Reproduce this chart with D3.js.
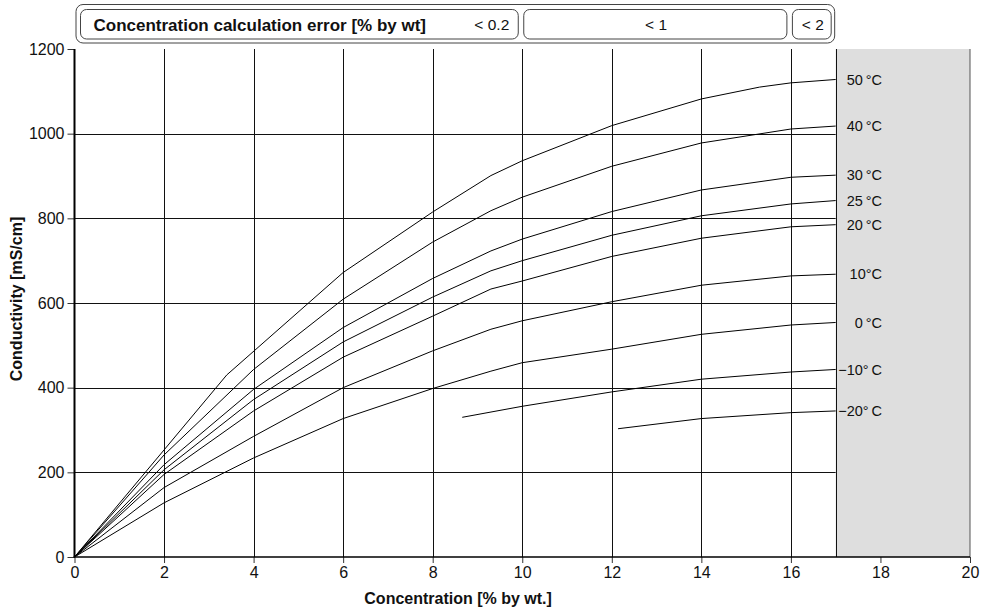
<!DOCTYPE html>
<html>
<head>
<meta charset="utf-8">
<script src="https://cdn.jsdelivr.net/npm/d3@7"></script>
<style>
  html, body { margin: 0; padding: 0; background: #fff; }
  svg { display: block; font-family: "Liberation Sans", Arial, sans-serif; }
</style>
</head>
<body>
<svg id="chart" width="981" height="615"></svg>
<script>
// ---------------- data ----------------
const xTicks = [0, 2, 4, 6, 8, 10, 12, 14, 16, 18, 20];
const yTicks = [0, 200, 400, 600, 800, 1000, 1200];

const conc = [0, 2, 4, 6, 8, 9.3, 10, 12, 14, 16, 17];
const conc50 = [0, 3.4, 6, 8, 9.3, 10, 12, 14, 15.3, 16, 17];
const t50 = [0, 430, 672, 815, 901, 936, 1019, 1082, 1110, 1120, 1128];
const t40 = [0, 241, 443, 609, 744, 818, 850, 923, 978, 1011, 1018];
const t30 = [0, 218, 396, 542, 658, 723, 751, 816, 867, 897, 902];
const t25 = [0, 206, 372, 508, 614, 676, 700, 760, 806, 834, 842];
const t20 = [0, 195, 345, 472, 569, 633, 652, 710, 753, 780, 785];
const t10 = [0, 164, 285, 400, 487, 538, 558, 603, 642, 664, 668];
const t0  = [0, 128, 234, 327, 398, 439, 459, 491, 526, 548, 554];
const concM10 = [8.66, 10, 12, 14, 16, 17];
const tM10 = [330, 356, 390, 420, 437, 443];
const concM20 = [12.14, 14, 16, 17];
const tM20 = [303, 327, 341, 345];

const seriesLabels = ["50\u2009°C", "40\u2009°C", "30\u2009°C", "25\u2009°C", "20\u2009°C", "10°C", "0\u2009°C", "\u221210°\u2009C", "\u221220°\u2009C"];

const errorSegments = [
  {from: 0, to: 10, label: "< 0.2"},
  {from: 10, to: 16, label: "< 1"},
  {from: 16, to: 17, label: "< 2"}
];
const errorTitle = "Concentration calculation error [% by wt]";
const validLimit = 17;

// ---------------- chart ----------------
const svg = d3.select("#chart");
const x = d3.scaleLinear().domain([0, 20]).range([74.5, 970]);
const y = d3.scaleLinear().domain([0, 1200]).range([557, 49]);

const series = [
  {xs: conc50, ys: t50}, {xs: conc, ys: t40}, {xs: conc, ys: t30},
  {xs: conc, ys: t25}, {xs: conc, ys: t20}, {xs: conc, ys: t10},
  {xs: conc, ys: t0}, {xs: concM10, ys: tM10}, {xs: concM20, ys: tM20}
].map((s, i) => ({label: seriesLabels[i], pts: s.xs.map((c, j) => [c, s.ys[j]])}));

// grey invalid region
svg.append("rect")
  .attr("x", x(validLimit)).attr("y", y(1200))
  .attr("width", x(20) - x(validLimit)).attr("height", y(0) - y(1200))
  .attr("fill", "#dedede");
svg.append("line")
  .attr("x1", x(20)).attr("x2", x(20)).attr("y1", y(1200)).attr("y2", y(0))
  .attr("stroke", "#555").attr("stroke-width", 1);

// grid
const grid = svg.append("g").attr("stroke", "#111").attr("stroke-width", 1);
grid.selectAll("line.v")
  .data(xTicks.filter(d => d > 0 && d < validLimit).concat([validLimit]))
  .join("line")
  .attr("x1", d => Math.round(x(d)) + 0.5).attr("x2", d => Math.round(x(d)) + 0.5)
  .attr("y1", y(1200)).attr("y2", y(0));
grid.selectAll("line.h")
  .data(yTicks.filter(d => d > 0 && d < 1200))
  .join("line")
  .attr("x1", x(0)).attr("x2", x(validLimit))
  .attr("y1", d => Math.round(y(d)) + 0.5).attr("y2", d => Math.round(y(d)) + 0.5);

// axes
const yAxis = svg.append("g")
  .attr("transform", `translate(${x(0)},0)`)
  .call(d3.axisLeft(y).tickValues(yTicks).tickFormat(d3.format("d"))
    .tickSize(7).tickSizeOuter(0).tickPadding(3));
yAxis.select(".domain").remove();
yAxis.selectAll("text").attr("font-size", 16).attr("fill", "#111")
  .attr("font-family", "Liberation Sans, Arial, sans-serif");
yAxis.selectAll("line").attr("stroke", "#333");

const xAxis = svg.append("g")
  .attr("transform", `translate(0,${y(0)})`)
  .call(d3.axisBottom(x).tickValues(xTicks).tickFormat(d3.format("d"))
    .tickSize(6).tickSizeOuter(0).tickPadding(4));
xAxis.select(".domain").remove();
xAxis.selectAll("text").attr("font-size", 16).attr("fill", "#111")
  .attr("font-family", "Liberation Sans, Arial, sans-serif");
xAxis.selectAll("line").attr("stroke", "#333");

svg.append("line")
  .attr("x1", x(0)).attr("x2", x(0)).attr("y1", y(1200)).attr("y2", y(0))
  .attr("stroke", "#000").attr("stroke-width", 2);
svg.append("line")
  .attr("x1", x(0) - 1).attr("x2", x(20)).attr("y1", y(0)).attr("y2", y(0))
  .attr("stroke", "#000").attr("stroke-width", 1.5);

// curves
const line = d3.line().x(d => x(d[0])).y(d => y(d[1])).curve(d3.curveLinear);
svg.append("g").selectAll("path")
  .data(series).join("path")
  .attr("d", d => line(d.pts))
  .attr("fill", "none").attr("stroke", "#000").attr("stroke-width", 1);

// curve labels
svg.append("g").selectAll("text")
  .data(series).join("text")
  .attr("x", 882)
  .attr("y", d => y(d.pts[d.pts.length - 1][1]))
  .attr("dy", "0.36em")
  .attr("text-anchor", "end")
  .attr("font-size", 14.5).attr("fill", "#111")
  .text(d => d.label);

// axis titles
svg.append("text")
  .attr("x", (x(0) + x(validLimit)) / 2 + 3).attr("y", 604)
  .attr("text-anchor", "middle").attr("font-weight", "bold").attr("font-size", 16)
  .attr("fill", "#111")
  .text("Concentration [% by wt.]");
svg.append("text")
  .attr("transform", `translate(22,${(y(0) + y(1200)) / 2 - 4}) rotate(-90)`)
  .attr("text-anchor", "middle").attr("font-weight", "bold").attr("font-size", 16)
  .attr("fill", "#111")
  .text("Conductivity [mS/cm]");

// header error boxes
const header = svg.append("g");
header.append("rect")
  .attr("x", x(0) + 1.5).attr("y", 4.5)
  .attr("width", x(validLimit) - x(0) - 2.5).attr("height", 38.5)
  .attr("rx", 7).attr("fill", "#fff").attr("stroke", "#444").attr("stroke-width", 1);
header.selectAll("rect.seg")
  .data(errorSegments).join("rect")
  .attr("class", "seg")
  .attr("x", (d, i) => x(d.from) + (i === 0 ? 6 : 1.5))
  .attr("y", 9.5)
  .attr("width", (d, i) => x(d.to) - x(d.from) - (i === 0 ? 6 : 1.5) - (i === 2 ? 4.5 : 4))
  .attr("height", 29.5)
  .attr("rx", 6).attr("fill", "#fff").attr("stroke", "#444").attr("stroke-width", 1);
header.selectAll("text.seg")
  .data(errorSegments).join("text")
  .attr("class", "seg")
  .attr("x", (d, i) => i === 0 ? x(d.to) - 13 : (x(d.from) + x(d.to)) / 2 - 0.5)
  .attr("y", 30)
  .attr("text-anchor", (d, i) => i === 0 ? "end" : "middle")
  .attr("font-size", 15.5).attr("fill", "#111")
  .text(d => d.label);
header.append("text")
  .attr("x", 93.5).attr("y", 30.5)
  .attr("font-weight", "bold").attr("font-size", 17).attr("fill", "#111")
  .text(errorTitle);
</script>
</body>
</html>
